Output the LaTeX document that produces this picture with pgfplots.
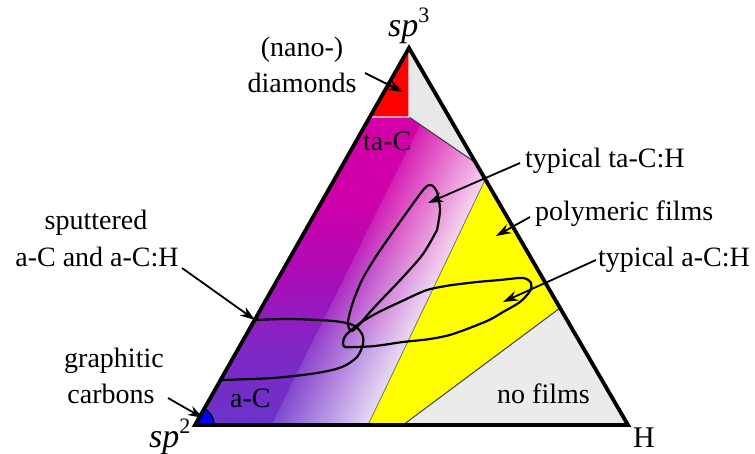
\documentclass[border=0pt]{standalone}
\usepackage{pgfplots}
\pgfplotsset{compat=1.18}
\usepackage{fontspec}
\setmainfont{Liberation Serif}
\usetikzlibrary{arrows.meta}

\definecolor{filmgrey}{RGB}{235,235,235}
\definecolor{topgrey}{RGB}{232,232,232}
\definecolor{diamondred}{RGB}{255,0,0}
\definecolor{polyyellow}{RGB}{255,255,0}
\definecolor{graphblue}{RGB}{0,0,255}

\begin{document}
\begin{tikzpicture}[
  lbl/.style={font=\fontsize{28bp}{34bp}\selectfont, inner sep=0pt, text=black},
  corner/.style={font=\fontsize{34bp}{40bp}\selectfont, inner sep=0pt, text=black},
  arr/.style={-{Stealth[length=15bp,width=10bp]}, line width=1.8bp, black},
]
\useasboundingbox (0,0) rectangle (755bp,454bp);
\begin{axis}[
  at={(0,0)}, anchor=south west,
  width=755bp, height=454bp, scale only axis,
  xmin=0, xmax=755, ymin=0, ymax=454, y dir=reverse,
  hide axis, clip=false,
]
% amorphous carbon field: sp2 -> sp3 colour along the C edge, fading to white towards higher H
\begin{scope}
\clip (axis cs:369,117) -- (axis cs:409,117) -- (axis cs:476,163) -- (axis cs:485,180)
      -- (axis cs:368,425) -- (axis cs:195,425) -- cycle;
\addplot[patch, shader=interp, mesh/color input=explicit, point meta=explicit symbolic]
  table[meta=c] {
x y c
373 100 rgb255=212,0,168
433 100 rgb255=212,0,168
383 200 rgb255=206,0,170
373 100 rgb255=212,0,168
383 200 rgb255=206,0,170
317 200 rgb255=206,0,170
317 200 rgb255=206,0,170
383 200 rgb255=206,0,170
344 280 rgb255=168,14,184
317 200 rgb255=206,0,170
344 280 rgb255=168,14,184
271 280 rgb255=168,14,184
271 280 rgb255=168,14,184
344 280 rgb255=168,14,184
309 350 rgb255=128,40,198
271 280 rgb255=168,14,184
309 350 rgb255=128,40,198
232 350 rgb255=128,40,198
232 350 rgb255=128,40,198
309 350 rgb255=128,40,198
270 430 rgb255=104,52,202
232 350 rgb255=128,40,198
270 430 rgb255=104,52,202
186 430 rgb255=104,52,202
};
\addplot[patch, shader=interp, mesh/color input=explicit, point meta=explicit symbolic]
  table[meta=c] {
x y c
433 100 rgb255=217,31,178
525 100 rgb255=249,217,242
478 200 rgb255=248,217,242
433 100 rgb255=217,31,178
478 200 rgb255=248,217,242
383 200 rgb255=212,31,180
383 200 rgb255=212,31,180
478 200 rgb255=248,217,242
440 280 rgb255=242,219,244
383 200 rgb255=212,31,180
440 280 rgb255=242,219,244
344 280 rgb255=178,43,192
344 280 rgb255=178,43,192
440 280 rgb255=242,219,244
407 350 rgb255=236,223,246
344 280 rgb255=178,43,192
407 350 rgb255=236,223,246
309 350 rgb255=143,66,205
309 350 rgb255=143,66,205
407 350 rgb255=236,223,246
370 430 rgb255=232,225,247
309 350 rgb255=143,66,205
370 430 rgb255=232,225,247
270 430 rgb255=122,76,208
};
\end{scope}

% polymeric films
\addplot[fill=polyyellow, draw=none] coordinates {(485,180) (560,308) (403,425) (368,425)} --cycle;
% no films
\addplot[fill=filmgrey, draw=none] coordinates {(560,308) (628,425) (403,425)} --cycle;
\addplot[draw=black!75, line width=1bp] coordinates {(560,308) (403,425)};
\addplot[draw=black!55, line width=0.8bp] coordinates {(485,180) (368,425)};
% upper H-rich region without films
\addplot[fill=topgrey, draw=none] coordinates {(409,48) (476,163) (409,117)} --cycle;
\addplot[draw=black!75, line width=1.1bp] coordinates {(409,117) (476,163)};
% (nano-)diamonds
\addplot[fill=diamondred, draw=white!85!gray, line width=1.2bp] coordinates {(409,48) (409,117) (370,117)} --cycle;
% graphitic carbons
\addplot[fill=graphblue, draw=black, line width=1.3bp] coordinates {(195,425) (214,425) (213.71,421.70) (212.85,418.50) (211.45,415.50) (209.56,412.79) (207.21,410.44) (204.5,408.55)} --cycle;

% frame
\addplot[draw=black, line width=3.8bp, line join=miter] coordinates {(195,425) (628,425) (409,48)} --cycle;

% sputtered a-C and a-C:H
\addplot[smooth, draw=black, line width=2.2bp] coordinates {
(255,320) (290,319) (333,321) (353,325) (362,334) (363,344) (357,357) (342,367) (317,373) (273,378) (221,380)};
% typical ta-C:H
\addplot[smooth, draw=black, line width=2.2bp] coordinates {
(437,230) (440,210) (437,192) (431,185) (424,189) (407,212) (390,236) (375,258) (362,280) (353,302) (348,322) (351,331) (358,326) (370,312) (385,296) (403,277) (423,254) (437,230)};
% typical a-C:H
\addplot[smooth, draw=black, line width=2.2bp] coordinates {
(452,285) (477,282) (500,280) (523,278) (531,283) (530,291) (520,302) (503,312) (487,321) (453,334) (430,339) (403,342) (375,346) (355,347) (345,347) (343,343) (346,335) (360,323) (377,313) (400,302) (427,290) (452,285)};

% annotations
\draw[arr] (axis cs:365,73) -- (axis cs:403,92);
\draw[arr] (axis cs:520,163) -- (axis cs:428,203);
\draw[arr] (axis cs:530,217) -- (axis cs:496,236);
\draw[arr] (axis cs:596,260) -- (axis cs:503,302);
\draw[arr] (axis cs:182,268) -- (axis cs:255,320);
\draw[arr] (axis cs:168,398) -- (axis cs:203,418);

\node[lbl, anchor=base] at (axis cs:302,57) {(nano-)};
\node[lbl, anchor=base] at (axis cs:302,92) {diamonds};
\node[corner, anchor=base west] at (axis cs:388,37) {\textit{sp}\raisebox{14bp}{\fontsize{22bp}{22bp}\selectfont 3}};
\node[lbl, anchor=base west] at (axis cs:363,150) {ta-C};
\node[lbl, anchor=base west] at (axis cs:525,167) {typical ta-C:H};
\node[lbl, anchor=base west] at (axis cs:535,220) {polymeric films};
\node[lbl, anchor=base west] at (axis cs:598,266) {typical a-C:H};
\node[lbl, anchor=base] at (axis cs:96,229) {sputtered};
\node[lbl, anchor=base] at (axis cs:97,266) {a-C and a-C:H};
\node[lbl, anchor=base] at (axis cs:114,367) {graphitic};
\node[lbl, anchor=base] at (axis cs:111,403) {carbons};
\node[lbl, anchor=base west] at (axis cs:230,407) {a-C};
\node[corner, anchor=base west] at (axis cs:149,447) {\textit{sp}\raisebox{14bp}{\fontsize{22bp}{22bp}\selectfont 2}};
\node[lbl, anchor=base west] at (axis cs:497,403) {no films};
\node[lbl, font=\fontsize{30bp}{36bp}\selectfont, anchor=base west] at (axis cs:633,447) {H};
\end{axis}
\end{tikzpicture}
\end{document}
